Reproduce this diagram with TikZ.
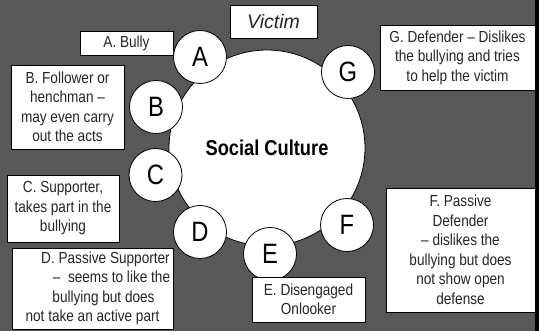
\documentclass[tikz,border=0pt]{standalone}
\usepackage{fontspec}
\setmainfont{Liberation Sans}[FakeStretch=0.85]
\newfontfamily\victimfont{Liberation Sans}
\definecolor{bggray}{RGB}{88,88,88}
\tikzset{
  lbl/.style={draw=black, line width=0.8pt, fill=white, inner sep=0pt, font=\fontsize{16}{19.5}\selectfont, align=center, text=black!85},
  letter/.style={circle, draw=black, line width=0.8pt, fill=white, minimum size=53pt, inner sep=0pt, font=\fontsize{28}{28}\selectfont},
}
\begin{document}
\begin{tikzpicture}[x=1pt,y=-1pt]
\useasboundingbox (0,0) rectangle (539,331);
\fill[bggray] (0,0) rectangle (539,331);
\fill[black] (535,0) rectangle (539,331);
% big circle
\node[circle, draw=black, line width=0.8pt, fill=white, minimum size=196pt, inner sep=0pt,
      font=\fontsize{21.5}{22}\selectfont\bfseries] (sc) at (267,148) {Social Culture};
% small circles
\node[letter] (A) at (200,57) {A};
\node[letter] (B) at (156,107) {B};
\node[letter] (C) at (155.5,175) {C};
\node[letter] (D) at (200,232) {D};
\node[letter] (E) at (270,254) {E};
\node[letter] (F) at (347,225) {F};
\node[letter] (G) at (348,72) {G};
% label boxes
\node[lbl, minimum width=93pt, minimum height=24pt] (la) at (126.5,43) {A. Bully};
\node[lbl, minimum width=87pt, minimum height=33pt, font=\victimfont\itshape\fontsize{19.5}{20}\selectfont] (lv) at (273.5,21.5) {Victim};
\node[lbl, minimum width=113pt, minimum height=84pt] (lb) at (67.5,107) {B. Follower or\\henchman –\\may even carry\\out the acts};
\node[lbl, minimum width=112pt, minimum height=67pt] (lc) at (63,208.5) {C. Supporter,\\takes part in the\\bullying};
\node[lbl, minimum width=161pt, minimum height=81pt] (ld) at (92.5,288.5) {\hspace*{26pt}D. Passive Supporter\\\hspace*{38pt}–\ \ seems to like the\\\hspace*{22pt}bullying but does\\not take an active part};
\node[lbl, minimum width=113pt, minimum height=45pt] (le) at (308.5,299.5) {E. Disengaged\\Onlooker};
\node[lbl, minimum width=149pt, minimum height=124pt] (lf) at (460.5,250) {F. Passive\\Defender\\– dislikes the\\bullying but does\\not show open\\defense};
\node[lbl, minimum width=155pt, minimum height=65pt] (lg) at (457.5,57.5) {G. Defender – Dislikes\\the bullying and tries\\to help the victim};
\end{tikzpicture}
\end{document}
